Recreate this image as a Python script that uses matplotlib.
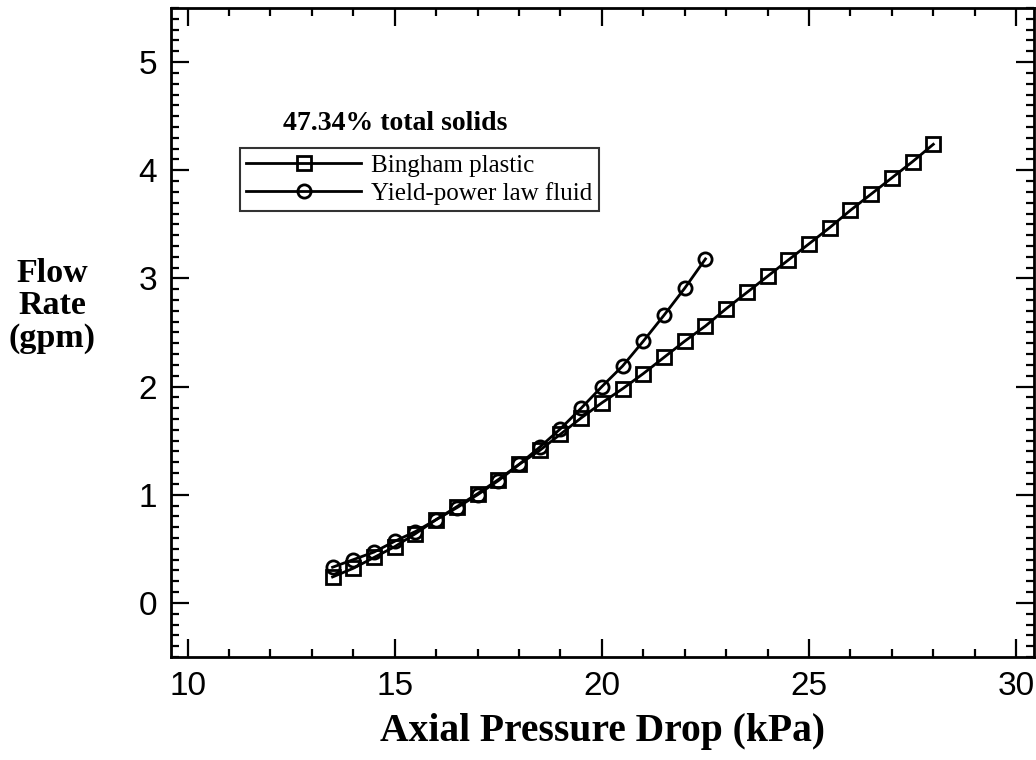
import matplotlib.pyplot as plt
from matplotlib.ticker import MultipleLocator

# flow curves
dp_bingham = [13.5, 14.0, 14.5, 15.0, 15.5, 16.0, 16.5, 17.0, 17.5, 18.0,
              18.5, 19.0, 19.5, 20.0, 20.5, 21.0, 21.5, 22.0, 22.5, 23.0,
              23.5, 24.0, 24.5, 25.0, 25.5, 26.0, 26.5, 27.0, 27.5, 28.0]
q_bingham = [0.24, 0.32, 0.42, 0.52, 0.64, 0.77, 0.89, 1.01, 1.14, 1.28,
             1.41, 1.56, 1.71, 1.85, 1.98, 2.12, 2.27, 2.42, 2.56, 2.72,
             2.87, 3.02, 3.17, 3.32, 3.47, 3.63, 3.78, 3.93, 4.08, 4.24]

dp_ypl = [13.5, 14.0, 14.5, 15.0, 15.5, 16.0, 16.5, 17.0, 17.5, 18.0,
          18.5, 19.0, 19.5, 20.0, 20.5, 21.0, 21.5, 22.0, 22.5]
q_ypl = [0.33, 0.40, 0.47, 0.57, 0.66, 0.77, 0.88, 1.00, 1.13, 1.28,
         1.44, 1.61, 1.80, 2.00, 2.19, 2.42, 2.66, 2.91, 3.18]

serif = ['Liberation Serif', 'DejaVu Serif']
sans = ['Liberation Sans', 'DejaVu Sans']

fig = plt.figure(figsize=(10.36, 7.6), dpi=100)
ax = fig.add_axes([171 / 1036, 1 - 657 / 760, (1034 - 171) / 1036, (657 - 8) / 760])

ax.plot(dp_bingham, q_bingham, color='black', lw=2, marker='s', ms=9.5,
        mfc='none', mec='black', mew=2, label='Bingham plastic')
ax.plot(dp_ypl, q_ypl, color='black', lw=2, marker='o', ms=9.5,
        mfc='none', mec='black', mew=2, label='Yield-power law fluid')

ax.set_xlim(9.6, 30.43)
ax.set_ylim(-0.5, 5.5)
ax.xaxis.set_major_locator(MultipleLocator(5))
ax.xaxis.set_minor_locator(MultipleLocator(1))
ax.yaxis.set_major_locator(MultipleLocator(1))
ax.yaxis.set_minor_locator(MultipleLocator(0.1))
ax.tick_params(which='both', direction='in', top=True, right=True, width=1.6)
ax.tick_params(which='major', length=13, labelsize=24, pad=10)
ax.tick_params(which='minor', length=6)
for lab in ax.get_xticklabels() + ax.get_yticklabels():
    lab.set_family(sans)
for sp in ax.spines.values():
    sp.set_linewidth(2)

ax.set_xlabel('Axial Pressure Drop (kPa)', family=serif, fontweight='bold',
              fontsize=28.5, labelpad=8)
fig.text(52 / 1036, 1 - 306 / 760, 'Flow\nRate\n(gpm)', family=serif,
         fontweight='bold', fontsize=24.5, ha='center', va='center',
         linespacing=1.05)

fig.text(395 / 1036, 1 - 123 / 760, '47.34% total solids', family=serif,
         fontweight='bold', fontsize=20, ha='center', va='center')
leg = ax.legend(loc='upper left', bbox_to_anchor=(240 / 1036, 1 - 148 / 760),
                bbox_transform=fig.transFigure, borderaxespad=0, frameon=True,
                fancybox=False, edgecolor='black', handlelength=4.6,
                borderpad=0.25, labelspacing=0.2, handletextpad=0.4,
                prop={'family': serif, 'size': 18})
leg.get_frame().set_linewidth(1.5)

fig.savefig('out.png', dpi=100)
